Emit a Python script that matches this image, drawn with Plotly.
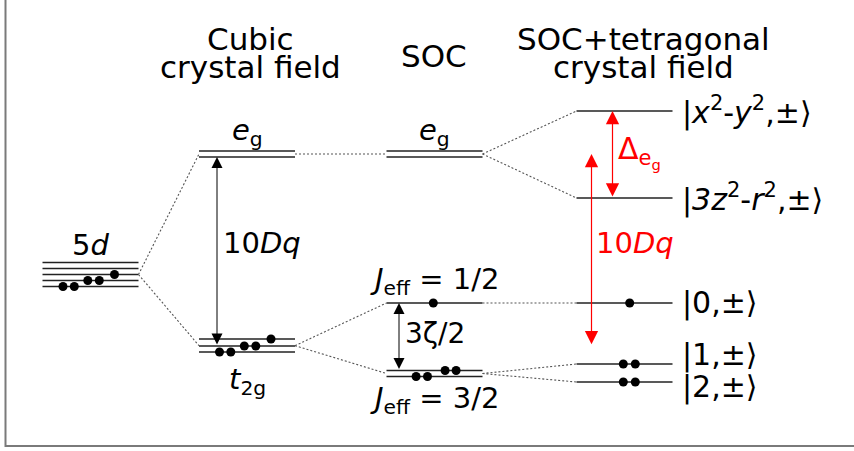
import numpy as np
import plotly.graph_objects as go

# ---- energy levels (arbitrary energy units, increasing upward) ----
levels_5d = [188.5, 182.5, 176.5, 170.5, 164.5]
occ_5d = [0, 0, 1, 2, 2]

cubic_eg = [300, 294]
cubic_t2g = [112, 105, 99]
occ_t2g = [1, 2, 2]

soc_eg = [300, 294]
jeff_half = [148]
occ_half = [1]
jeff_3half = [80.5, 74.5]
occ_3half = [2, 2]

tet_eg = [340, 253]
tet_t2g = [148, 87, 69]
occ_tet = [1, 2, 2]

column_titles = [["Cubic", "crystal field"], ["SOC"], ["SOC+tetragonal", "crystal field"]]
tet_labels = ["|<i>x</i><sup>2</sup>-<i>y</i><sup>2</sup>,±⟩",
              "|<i>3z</i><sup>2</sup>-<i>r</i><sup>2</sup>,±⟩",
              "|0,±⟩", "|1,±⟩", "|2,±⟩"]

# ---- layout constants ----
W, H = 854, 451
col_x = [90.5, 247, 434.5, 624.5]
half = 48
FONT = "DejaVu Sans, sans-serif"
LVL = "#222222"
DOT = "#555555"
LS = 29   # level label size
TS = 31   # column title size

fig = go.Figure()
shapes = []
annots = []


def level_lines(cx, energies):
    for e in energies:
        shapes.append(dict(type="line", x0=cx - half, x1=cx + half, y0=e, y1=e,
                           line=dict(color=LVL, width=1.4), layer="below"))


def connector(x0, e0, x1, e1):
    shapes.append(dict(type="line", x0=x0, x1=x1, y0=e0, y1=e1,
                       line=dict(color=DOT, width=1.1, dash="2px,2px"), layer="below"))


def electrons(xs, es):
    fig.add_trace(go.Scatter(x=xs, y=es, mode="markers", hoverinfo="skip",
                             marker=dict(color="black", size=9, line=dict(width=0)),
                             showlegend=False))


def arrow(x, e_top, e_bot, color, width=1):
    annots.append(dict(x=x, y=e_top, ax=x, ay=e_bot, xref="x", yref="y",
                       axref="x", ayref="y", text="", showarrow=True,
                       arrowhead=2, startarrowhead=2, arrowside="end+start",
                       arrowsize=2.2, startarrowsize=2.2, arrowwidth=width,
                       arrowcolor=color, standoff=0, startstandoff=0))


def label(x, e, txt, size=LS, color="black", xanchor="center"):
    annots.append(dict(x=x, y=e, xref="x", yref="y", text=txt, showarrow=False,
                       xanchor=xanchor, yanchor="middle",
                       font=dict(family=FONT, size=size, color=color)))


# stacked electrons: successive levels filled from the bottom, staggered to the right
stag_pairs = [(20.5, 31.8), (45.3, 56.8)]
stag_single = 72.0


def cascade(cx, energies, occ):
    xs, es = [], []
    left = cx - half
    order = list(range(len(energies)))[::-1]  # bottom level first
    k = 0
    for i in order:
        n = occ[i]
        if n == 2:
            for dx in stag_pairs[k]:
                xs.append(left + dx)
                es.append(energies[i])
            k += 1
        elif n == 1:
            xs.append(left + stag_single)
            es.append(energies[i])
    electrons(xs, es)


# 5d manifold
level_lines(col_x[0], levels_5d)
cascade(col_x[0], levels_5d, occ_5d)

# cubic crystal field
level_lines(col_x[1], cubic_eg)
level_lines(col_x[1], cubic_t2g)
cascade(col_x[1], cubic_t2g, occ_t2g)

# spin-orbit coupling
level_lines(col_x[2], soc_eg)
level_lines(col_x[2], jeff_half)
level_lines(col_x[2], jeff_3half)
electrons([col_x[2] - 1.2], [jeff_half[0]])
left3 = col_x[2] - half
electrons([left3 + 29.6, left3 + 41.0, left3 + 58.6, left3 + 69.6],
          [jeff_3half[1], jeff_3half[1], jeff_3half[0], jeff_3half[0]])

# SOC + tetragonal field
level_lines(col_x[3], tet_eg)
level_lines(col_x[3], tet_t2g)
cx3 = col_x[3]
electrons([cx3 + 5.2], [tet_t2g[0]])
electrons([cx3 - 1.2, cx3 + 10.8, cx3 - 1.2, cx3 + 10.8],
          [tet_t2g[1], tet_t2g[1], tet_t2g[2], tet_t2g[2]])

# dotted correlation lines
m5d = float(np.mean(levels_5d))
meg = float(np.mean(cubic_eg))
mt2g = float(np.mean(cubic_t2g))
m32 = float(np.mean(jeff_3half))
r0, l1 = col_x[0] + half, col_x[1] - half
r1, l2 = col_x[1] + half, col_x[2] - half
r2, l3 = col_x[2] + half, col_x[3] - half
connector(r0, m5d, l1, meg)
connector(r0, m5d, l1, mt2g)
connector(r1, meg, l2, float(np.mean(soc_eg)))
connector(r1, mt2g, l2, jeff_half[0])
connector(r1, mt2g, l2, m32)
connector(r2, float(np.mean(soc_eg)), l3, tet_eg[0])
connector(r2, float(np.mean(soc_eg)), l3, tet_eg[1])
connector(r2, jeff_half[0], l3, tet_t2g[0])
connector(r2, m32, l3, tet_t2g[1])
connector(r2, m32, l3, tet_t2g[2])

# splitting arrows
arrow(217, min(cubic_eg), cubic_t2g[1], "black")
arrow(399, jeff_half[0], max(jeff_3half), "black")
arrow(612.5, tet_eg[0], tet_eg[1], "red", 1.2)
arrow(591.5, meg, mt2g, "red", 1.2)

# level labels
label(col_x[0], 206, "5<i>d</i>", size=29)
label(col_x[1], 319, "<i>e</i><sub>g</sub>")
label(col_x[2], 319, "<i>e</i><sub>g</sub>")
label(col_x[1], 70, "<i>t</i><sub>2g</sub>")
label(col_x[2], 170, "<i>J</i><sub>eff</sub> = 1/2")
label(col_x[2], 51, "<i>J</i><sub>eff</sub> = 3/2")
label(262, 208, "10<i>Dq</i>", size=29)
label(435, 118, "3ζ/2", size=28)
label(616, 299, "Δ<sub>e<sub>g</sub></sub>", size=30, color="red", xanchor="left")
label(594, 208, "10<i>Dq</i>", size=29, color="red", xanchor="left")

tet_label_e = [tet_eg[0], tet_eg[1], tet_t2g[0], 96, 64]
for txt, e in zip(tet_labels, tet_label_e):
    label(680, e, txt, size=30, xanchor="left")

# column titles, one line each
title_x = [250, 434, 643]
for cx, lines in zip(title_x, column_titles):
    if len(lines) == 2:
        label(cx, H - 39, lines[0], size=TS)
        label(cx, H - 67, lines[1], size=TS)
    else:
        label(cx, H - 56, lines[0], size=TS)

# frame
shapes.append(dict(type="rect", x0=5.5, x1=W + 10, y0=5, y1=H + 5,
                   line=dict(color="#7a7a7a", width=2), layer="below"))

fig.update_layout(
    width=W, height=H, margin=dict(l=0, r=0, t=0, b=0),
    paper_bgcolor="white", plot_bgcolor="white",
    xaxis=dict(range=[0, W], visible=False, fixedrange=True),
    yaxis=dict(range=[0, H], visible=False, fixedrange=True),
    shapes=shapes, annotations=annots, showlegend=False,
)

fig.write_html("out.html")
